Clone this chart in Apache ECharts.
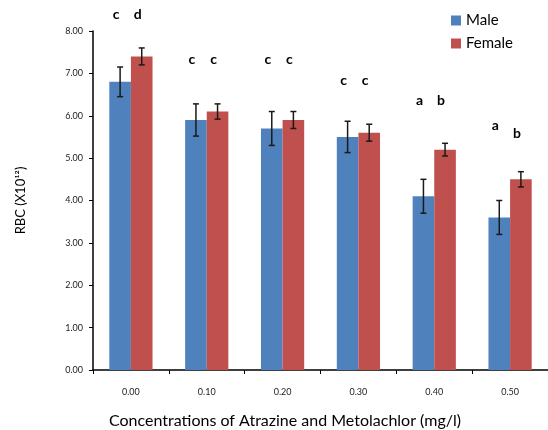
<!DOCTYPE html>
<html>
<head>
<meta charset="utf-8">
<script src="https://cdn.jsdelivr.net/npm/echarts@6/dist/echarts.min.js"></script>
<style>
html, body { margin: 0; padding: 0; background: #fff; }
#main { width: 548px; height: 430px; }
</style>
</head>
<body>
<div id="main"></div>
<script>
var categories = ['0.00', '0.10', '0.20', '0.30', '0.40', '0.50'];
var maleValues = [6.8, 5.9, 5.7, 5.5, 4.1, 3.6];
var femaleValues = [7.4, 6.1, 5.9, 5.6, 5.2, 4.5];
var maleErr = [0.35, 0.38, 0.4, 0.37, 0.4, 0.4];
var femaleErr = [0.2, 0.18, 0.2, 0.2, 0.15, 0.18];
var maleLetters = ['c', 'c', 'c', 'c', 'a', 'a'];
var femaleLetters = ['d', 'c', 'c', 'c', 'b', 'b'];
// height (in RBC units) where each letter sits
var maleLetterLevel = [8.38, 7.32, 7.32, 6.84, 6.37, 5.78];
var femaleLetterLevel = [8.38, 7.32, 7.32, 6.84, 6.37, 5.59];

var GAP = 0.43;
var chartDom = document.getElementById('main');
var myChart = echarts.init(chartDom);

function barHalf(api) {
    return api.size([1, 0])[0] * (1 - GAP) / 2;
}

function errorItem(side) {
    return function (params, api) {
        var idx = api.value(0);
        var bw = barHalf(api);
        var cx = api.coord([idx, 0])[0] + side * bw / 2;
        var hi = api.coord([idx, api.value(1) + api.value(2)])[1];
        var lo = api.coord([idx, api.value(1) - api.value(2)])[1];
        var cap = 3;
        var st = { stroke: '#1a1a1a', lineWidth: 1.5 };
        return {
            type: 'group',
            children: [
                { type: 'line', shape: { x1: cx, y1: hi, x2: cx, y2: lo }, style: st },
                { type: 'line', shape: { x1: cx - cap, y1: hi, x2: cx + cap, y2: hi }, style: st },
                { type: 'line', shape: { x1: cx - cap, y1: lo, x2: cx + cap, y2: lo }, style: st }
            ]
        };
    };
}

function letterItem(side, letters) {
    return function (params, api) {
        var idx = api.value(0);
        var bw = barHalf(api);
        var cx = api.coord([idx, 0])[0] + side * bw / 2 - 4;
        var cy = api.coord([idx, api.value(1)])[1];
        return {
            type: 'text',
            x: cx,
            y: cy,
            style: {
                text: letters[idx],
                fill: '#000',
                font: 'bold 14px Lato',
                align: 'center',
                verticalAlign: 'middle'
            }
        };
    };
}

var option = {
    animation: false,
    textStyle: { fontFamily: 'Lato' },
    grid: { left: 93, right: 0, top: 31, bottom: 60 },
    title: {
        text: 'Concentrations of Atrazine and Metolachlor (mg/l)',
        left: 109,
        top: 413,
        padding: 0,
        textStyle: { fontSize: 16, fontWeight: 'normal', color: '#000', fontFamily: 'Lato' }
    },
    legend: {
        right: 30,
        top: 8,
        orient: 'vertical',
        itemWidth: 10,
        itemHeight: 10,
        itemGap: 8,
        icon: 'rect',
        textStyle: { fontSize: 15, color: '#000', fontFamily: 'Lato' },
        data: ['Male', 'Female']
    },
    xAxis: {
        type: 'category',
        data: categories,
        axisLine: { lineStyle: { color: '#000', width: 1.5 } },
        axisTick: { show: true, length: 4, lineStyle: { color: '#000' } },
        axisLabel: { color: '#222', fontSize: 9, margin: 18 }
    },
    yAxis: {
        type: 'value',
        min: 0,
        max: 8,
        interval: 1,
        name: 'RBC (X10¹²)',
        nameLocation: 'middle',
        nameGap: 66,
        nameTextStyle: { fontSize: 13, color: '#000' },
        axisLine: { show: true, lineStyle: { color: '#000', width: 1.5 } },
        axisTick: { show: true, length: 4, lineStyle: { color: '#000' } },
        splitLine: { show: false },
        axisLabel: {
            color: '#222',
            fontSize: 9,
            margin: 10,
            formatter: function (v) { return v.toFixed(2); }
        }
    },
    series: [{
        name: 'Male',
        type: 'bar',
        data: maleValues,
        barGap: 0,
        barCategoryGap: '43%',
        itemStyle: { color: '#4F81BD' }
    }, {
        name: 'Female',
        type: 'bar',
        data: femaleValues,
        barGap: 0,
        barCategoryGap: '43%',
        itemStyle: { color: '#C0504D' }
    }, {
        type: 'custom',
        renderItem: errorItem(-1),
        data: maleValues.map(function (v, i) { return [i, v, maleErr[i]]; }),
        z: 5
    }, {
        type: 'custom',
        renderItem: errorItem(1),
        data: femaleValues.map(function (v, i) { return [i, v, femaleErr[i]]; }),
        z: 5
    }, {
        type: 'custom',
        renderItem: letterItem(-1, maleLetters),
        clip: false,
        data: maleLetterLevel.map(function (v, i) { return [i, v]; }),
        z: 6
    }, {
        type: 'custom',
        renderItem: letterItem(1, femaleLetters),
        clip: false,
        data: femaleLetterLevel.map(function (v, i) { return [i, v]; }),
        z: 6
    }]
};

option && myChart.setOption(option);
</script>
</body>
</html>
